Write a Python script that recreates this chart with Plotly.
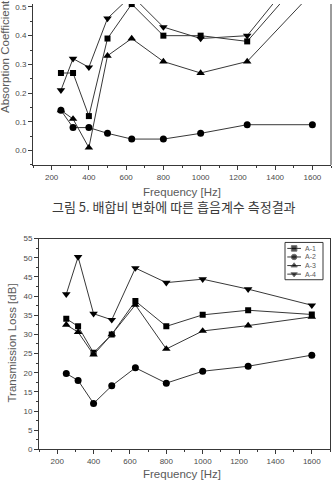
import plotly.graph_objects as go

freq = [250, 315, 400, 500, 630, 800, 1000, 1250, 1600]
names = ["A-1", "A-2", "A-3", "A-4"]
symbols = ["square", "circle", "triangle-up", "triangle-down"]

# Absorption coefficient (top chart, cropped at top)
abs_a1 = [0.27, 0.27, 0.12, 0.39, 0.51, 0.40, 0.40, 0.38, 0.64]
abs_a2 = [0.14, 0.08, 0.08, 0.06, 0.04, 0.04, 0.06, 0.09, 0.09]
abs_a3 = [0.14, 0.11, 0.01, 0.33, 0.39, 0.31, 0.27, 0.31, 0.55]
abs_a4 = [0.21, 0.32, 0.29, 0.46, 0.54, 0.43, 0.39, 0.40, 0.68]

# Transmission loss (bottom chart)
tl_a1 = [34.1, 32.1, 25.2, 30.0, 38.7, 32.1, 35.1, 36.3, 35.2]
tl_a2 = [19.8, 18.0, 12.0, 16.6, 21.3, 17.3, 20.4, 21.7, 24.6]
tl_a3 = [32.5, 30.6, 24.7, 30.0, 37.7, 26.2, 30.9, 32.3, 34.6]
tl_a4 = [40.5, 50.2, 35.4, 33.8, 47.3, 43.5, 44.4, 41.8, 37.6]

x_ticks = [200, 400, 600, 800, 1000, 1200, 1400, 1600]
abs_ticks = [0.0, 0.1, 0.2, 0.3, 0.4, 0.5]
tl_ticks = [0, 5, 10, 15, 20, 25, 30, 35, 40, 45, 50, 55]

caption = "그림 5. 배합비 변화에 따른 흡음계수 측정결과"

W, H = 333, 480
LINE = "#383838"
TXT = "#4a4a4a"
TITLE = "#5a5a5a"
FONT = "Liberation Sans, Arial, sans-serif"

fig = go.Figure()

abs_series = [abs_a1, abs_a2, abs_a3, abs_a4]
tl_series = [tl_a1, tl_a2, tl_a3, tl_a4]
msize = [6, 7, 7.5, 7.5]

for n, s, y, ms in zip(names, symbols, abs_series, msize):
    fig.add_trace(go.Scatter(
        x=freq, y=y, mode="lines+markers", name=n, showlegend=False,
        line=dict(color=LINE, width=1),
        marker=dict(symbol=s, size=ms, color="black"),
        xaxis="x", yaxis="y"))

for n, s, y, ms in zip(names, symbols, tl_series, msize):
    fig.add_trace(go.Scatter(
        x=freq, y=y, mode="lines+markers", name=n, showlegend=False,
        line=dict(color=LINE, width=1),
        marker=dict(symbol=s, size=ms, color="black"),
        xaxis="x2", yaxis="y2"))

# Compact legend drawn on its own hidden axis pair
leg_rows = [0.84, 0.61, 0.38, 0.15]
leg_ann = []
for n, s, ry in zip(names, symbols, leg_rows):
    fig.add_trace(go.Scatter(
        x=[0.06, 0.24, 0.42], y=[ry, ry, ry], mode="lines+markers", showlegend=False,
        line=dict(color=LINE, width=1),
        marker=dict(symbol=s, size=[0, 5.5, 0], color="black"),
        hoverinfo="skip", xaxis="x3", yaxis="y3"))
    leg_ann.append(dict(text=n, xref="x3", yref="y3", x=0.47, y=ry,
                        xanchor="left", yanchor="middle", showarrow=False,
                        font=dict(family=FONT, size=7, color=TITLE)))

def px_x(p):
    return p / W

def px_y(p):
    return 1 - p / H

common_axis = dict(
    showgrid=False, zeroline=False, showline=True, linecolor=LINE, linewidth=1,
    ticks="outside", ticklen=4, tickcolor=LINE, tickwidth=1,
    tickfont=dict(family=FONT, size=8, color=TXT),
)

fig.update_layout(
    width=W, height=H,
    margin=dict(l=0, r=0, t=0, b=0),
    paper_bgcolor="white", plot_bgcolor="white",
    showlegend=False,
    xaxis=dict(common_axis, domain=[px_x(33), px_x(331)], range=[100, 1700],
               tickvals=x_ticks, anchor="y",
               minor=dict(ticks="outside", ticklen=2, dtick=100, tick0=100, tickcolor=LINE)),
    yaxis=dict(common_axis, domain=[px_y(164), 1.0], range=[-0.05, 0.5102],
               tickvals=abs_ticks, tickformat=".1f", anchor="x",
               minor=dict(ticks="outside", ticklen=2, dtick=0.05, tick0=0, tickcolor=LINE)),
    xaxis2=dict(common_axis, domain=[px_x(39), px_x(330)], range=[100, 1700],
                tickvals=x_ticks, anchor="y2", mirror=True,
                minor=dict(ticks="outside", ticklen=2, dtick=100, tick0=100, tickcolor=LINE)),
    yaxis2=dict(common_axis, domain=[px_y(454), px_y(239)], range=[0, 55],
                tickvals=tl_ticks, anchor="x2", mirror=True,
                minor=dict(ticks="outside", ticklen=2, dtick=2.5, tick0=0, tickcolor=LINE)),
    xaxis3=dict(domain=[px_x(285), px_x(323)], range=[0, 1], visible=False,
                anchor="y3", fixedrange=True),
    yaxis3=dict(domain=[px_y(281), px_y(243)], range=[0, 1], visible=False,
                anchor="x3", fixedrange=True),
    shapes=[
        dict(type="line", xref="x domain", yref="y domain", x0=1, x1=1, y0=0, y1=1,
             line=dict(color=LINE, width=1)),
        dict(type="rect", xref="x3 domain", yref="y3 domain", x0=0, x1=1, y0=0, y1=1,
             line=dict(color=LINE, width=1), fillcolor="rgba(0,0,0,0)", layer="above"),
    ],
    annotations=leg_ann + [
        dict(text="Absorption Coefficient", textangle=-90, xref="paper", yref="paper",
             x=px_x(5), y=px_y(54), xanchor="center", yanchor="middle", showarrow=False,
             font=dict(family=FONT, size=11.5, color=TITLE)),
        dict(text="Frequency [Hz]", xref="paper", yref="paper",
             x=px_x(182), y=px_y(192), xanchor="center", yanchor="middle", showarrow=False,
             font=dict(family=FONT, size=11.5, color=TITLE)),
        dict(text=caption, xref="paper", yref="paper",
             x=px_x(174), y=px_y(206), xanchor="center", yanchor="middle", showarrow=False,
             font=dict(family="Noto Sans CJK KR", size=13, color="#3a3a3a")),
        dict(text="Transmission Loss [dB]", textangle=-90, xref="paper", yref="paper",
             x=px_x(12), y=px_y(346), xanchor="center", yanchor="middle", showarrow=False,
             font=dict(family=FONT, size=11.5, color=TITLE)),
        dict(text="Frequency [Hz]", xref="paper", yref="paper",
             x=px_x(182), y=px_y(479), xanchor="center", yanchor="middle", showarrow=False,
             font=dict(family=FONT, size=11.5, color=TITLE)),
    ],
)

fig.write_html("out.html")
